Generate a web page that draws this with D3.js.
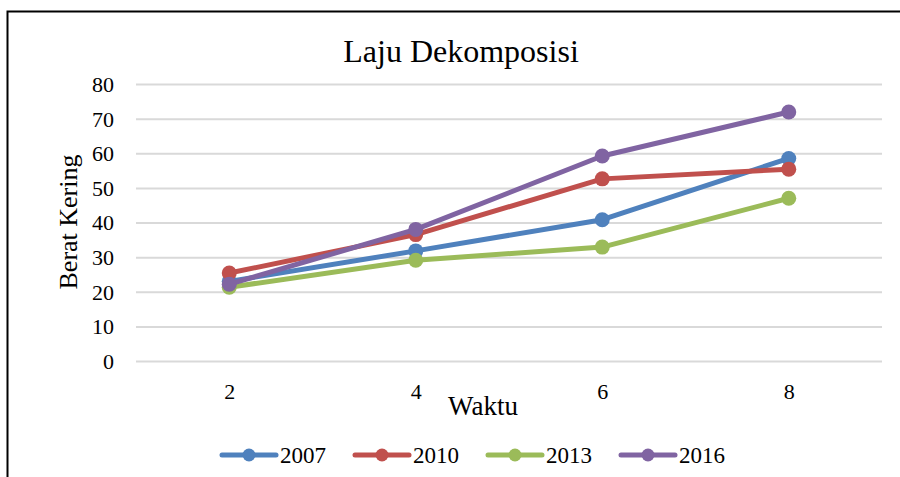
<!DOCTYPE html>
<html>
<head>
<meta charset="utf-8">
<script src="https://cdn.jsdelivr.net/npm/d3@7"></script>
<style>
  body { margin: 0; background: #fff; }
  text { font-family: "Liberation Serif", "Times New Roman", serif; fill: #000; }
</style>
</head>
<body>
<script>
// data
var waktu = ['2', '4', '6', '8']
var years = ['2007', '2010', '2013', '2016']
var v2007 = [23.0, 31.8, 40.8, 58.5]
var v2010 = [25.4, 36.5, 52.6, 55.4]
var v2013 = [21.3, 29.1, 32.9, 47.0]
var v2016 = [22.2, 38.0, 59.2, 71.9]
var yTicks = [0, 10, 20, 30, 40, 50, 60, 70, 80]
var colors = ['#4F81BD', '#C0504D', '#9BBB59', '#8064A2']

var series = [v2007, v2010, v2013, v2016].map(function(vals, i) {
  return { id: years[i], values: vals.map(function(v, j) { return { t: waktu[j], v: v } }) }
})

var svg = d3.select('body').append('svg').attr('width', 900).attr('height', 477)

// chart frame (bottom and right edges are cut off in the original)
svg.append('path').attr('d', 'M7.5,477 V11.5 H900')
  .attr('fill', 'none').attr('stroke', '#000').attr('stroke-width', 2)

var pLeft = 136, pRight = 882, pTop = 84, pBottom = 361

var x = d3.scalePoint().domain(waktu).range([pLeft, pRight]).padding(0.5)
var y = d3.scaleLinear().domain([0, 80]).range([pBottom, pTop])
var z = d3.scaleOrdinal().domain(years).range(colors)

svg.append('text').attr('x', 461).attr('y', 62).attr('text-anchor', 'middle')
  .style('font-size', '32px').text('Laju Dekomposisi')

// gridlines + y labels
var yAxis = svg.append('g').attr('transform', 'translate(' + pLeft + ',0)')
  .call(d3.axisLeft(y).tickValues(yTicks).tickSize(-(pRight - pLeft)).tickPadding(22))
yAxis.attr('font-family', null).attr('font-size', null)
yAxis.select('.domain').remove()
yAxis.selectAll('line').attr('stroke', '#d9d9d9').attr('stroke-width', 2)
yAxis.selectAll('text').style('font-size', '22px').attr('dy', '0.34em')

var xAxis = svg.append('g').attr('transform', 'translate(0,' + pBottom + ')')
  .call(d3.axisBottom(x).tickSize(0).tickPadding(22))
xAxis.attr('font-family', null).attr('font-size', null)
xAxis.select('.domain').remove()
xAxis.selectAll('text').style('font-size', '22px')

svg.append('text').attr('x', 483).attr('y', 415).attr('text-anchor', 'middle')
  .style('font-size', '27px').text('Waktu')

svg.append('text').attr('transform', 'translate(77,222) rotate(-90)')
  .attr('text-anchor', 'middle').style('font-size', '26px').text('Berat Kering')

var line = d3.line().x(function(d) { return x(d.t) }).y(function(d) { return y(d.v) })

var country = svg.selectAll('.series').data(series).enter().append('g').attr('class', 'series')

country.append('path').attr('d', function(d) { return line(d.values) })
  .attr('fill', 'none').attr('stroke', function(d) { return z(d.id) })
  .attr('stroke-width', 5).attr('stroke-linejoin', 'round').attr('stroke-linecap', 'round')

country.selectAll('circle').data(function(d) { return d.values.map(function(p) { return { t: p.t, v: p.v, id: d.id } }) })
  .enter().append('circle')
  .attr('cx', function(d) { return x(d.t) }).attr('cy', function(d) { return y(d.v) })
  .attr('r', 7.5).attr('fill', function(d) { return z(d.id) })

// legend
var leg = svg.selectAll('.leg').data(years).enter().append('g')
  .attr('transform', function(d, i) { return 'translate(' + (222 + i * 133) + ',455)' })
leg.append('line').attr('x1', 0).attr('x2', 54).attr('stroke', function(d) { return z(d) })
  .attr('stroke-width', 5).attr('stroke-linecap', 'round')
leg.append('circle').attr('cx', 27).attr('r', 6.5).attr('fill', function(d) { return z(d) })
leg.append('text').attr('x', 58).attr('dy', '0.35em').style('font-size', '23px').text(function(d) { return d })
</script>
</body>
</html>
